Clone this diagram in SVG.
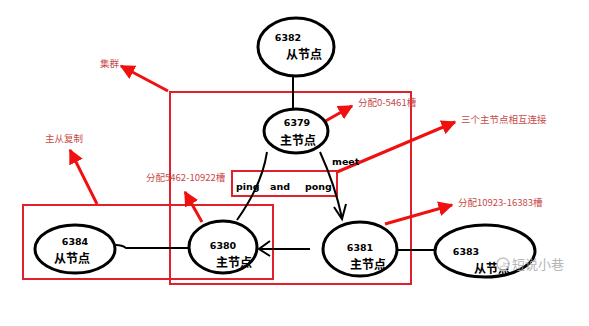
<svg xmlns="http://www.w3.org/2000/svg" width="589" height="326" viewBox="0 0 589 326">
<style>
.node{fill:#fff;stroke:#000;stroke-width:3}
.num{font-family:"DejaVu Sans",sans-serif;font-weight:bold;font-size:9.5px;fill:#000}
.cn{font-family:"Noto Sans CJK SC",sans-serif;font-weight:bold;font-size:12px;fill:#000}
.box{fill:none;stroke:#e0202a;stroke-width:2}
.lbl{font-family:"Noto Sans CJK SC",sans-serif;font-size:9.5px;fill:#c84a4a}
.ra{stroke:#f01010;stroke-width:3;fill:none;marker-end:url(#rh)}
.bl{stroke:#000;stroke-width:2;fill:none}
.pp{font-family:"DejaVu Sans",sans-serif;font-weight:bold;font-size:9.5px;fill:#000}
</style>
<defs>
<marker id="rh" viewBox="0 0 10 10" refX="9" refY="5" markerWidth="5" markerHeight="5" orient="auto" markerUnits="strokeWidth">
<path d="M0,0 L10,5 L0,10 Z" fill="#f01010"/>
</marker>
</defs>
<rect width="589" height="326" fill="#fff"/>
<g id="boxes">
<rect class="box" x="170" y="92" width="241" height="192"/>
<rect class="box" x="23" y="205" width="250" height="74"/>
<rect class="box" x="232" y="171" width="105" height="25"/>
</g>
<g id="connectors">
<line class="bl" x1="293" y1="76" x2="293" y2="109"/>
<path class="bl" d="M267,152 Q262,185 237,220"/>
<path class="bl" d="M320,152 Q335,185 342,218"/>
<path class="bl" d="M334,207 L342,219 L346,204"/>
<line class="bl" x1="310" y1="249" x2="259" y2="249"/>
<path class="bl" d="M270,241 L259,249 L270,256"/>
<path class="bl" d="M116,245 Q122,245 126,248 L189,248"/>
<line class="bl" x1="397" y1="250" x2="435" y2="250"/>
<line class="ra" x1="168" y1="91" x2="121" y2="66"/>
<line class="ra" x1="97" y1="204" x2="70" y2="150"/>
<line class="ra" x1="202" y1="222" x2="185" y2="192"/>
<line class="ra" x1="322" y1="123" x2="352" y2="106"/>
<line class="ra" x1="337" y1="172" x2="455" y2="122"/>
<line class="ra" x1="385" y1="224" x2="452" y2="205"/>
</g>
<g id="n6382">
<ellipse class="node" cx="296" cy="47" rx="38" ry="29"/>
<text class="num" x="288" y="41" text-anchor="middle">6382</text>
<text class="cn" x="304" y="59" text-anchor="middle">从节点</text>
</g>
<g id="n6379">
<ellipse class="node" cx="296" cy="131" rx="32" ry="22"/>
<text class="num" x="297" y="126" text-anchor="middle">6379</text>
<text class="cn" x="298" y="145" text-anchor="middle">主节点</text>
</g>
<g id="n6380">
<ellipse class="node" cx="223" cy="247" rx="34" ry="26"/>
<text class="num" x="223" y="249" text-anchor="middle">6380</text>
<text class="cn" x="234" y="267" text-anchor="middle">主节点</text>
</g>
<g id="n6381">
<ellipse class="node" cx="360" cy="249" rx="37" ry="27"/>
<text class="num" x="360" y="251" text-anchor="middle">6381</text>
<text class="cn" x="368" y="269" text-anchor="middle">主节点</text>
</g>
<g id="n6383">
<ellipse class="node" cx="485" cy="251" rx="50" ry="26"/>
<text class="num" x="466" y="255" text-anchor="middle">6383</text>
<text class="cn" x="492" y="273" text-anchor="middle">从节点</text>
</g>
<g id="n6384">
<ellipse class="node" cx="75" cy="249" rx="40" ry="24"/>
<text class="num" x="75" y="245" text-anchor="middle">6384</text>
<text class="cn" x="72" y="263" text-anchor="middle">从节点</text>
</g>
<g id="labels">
<text class="pp" x="236" y="190">ping</text>
<text class="pp" x="270" y="190">and</text>
<text class="pp" x="305" y="190">pong</text>
<text class="pp" x="332" y="165">meet</text>
<text class="lbl" x="100" y="67">集群</text>
<text class="lbl" x="45" y="142">主从复制</text>
<text class="lbl" x="146" y="181">分配5462-10922槽</text>
<text class="lbl" x="358" y="106">分配0-5461槽</text>
<text class="lbl" x="461" y="123">三个主节点相互连接</text>
<text class="lbl" x="458" y="206">分配10923-16383槽</text>
</g>
<g id="watermark" opacity="0.85">
<circle cx="503" cy="264" r="6" fill="#fff" stroke="#bbb" stroke-width="1.5"/>
<text x="512" y="269" font-family="Noto Sans CJK SC,sans-serif" font-size="13px" fill="#aaa">短说小巷</text>
</g>
</svg>
